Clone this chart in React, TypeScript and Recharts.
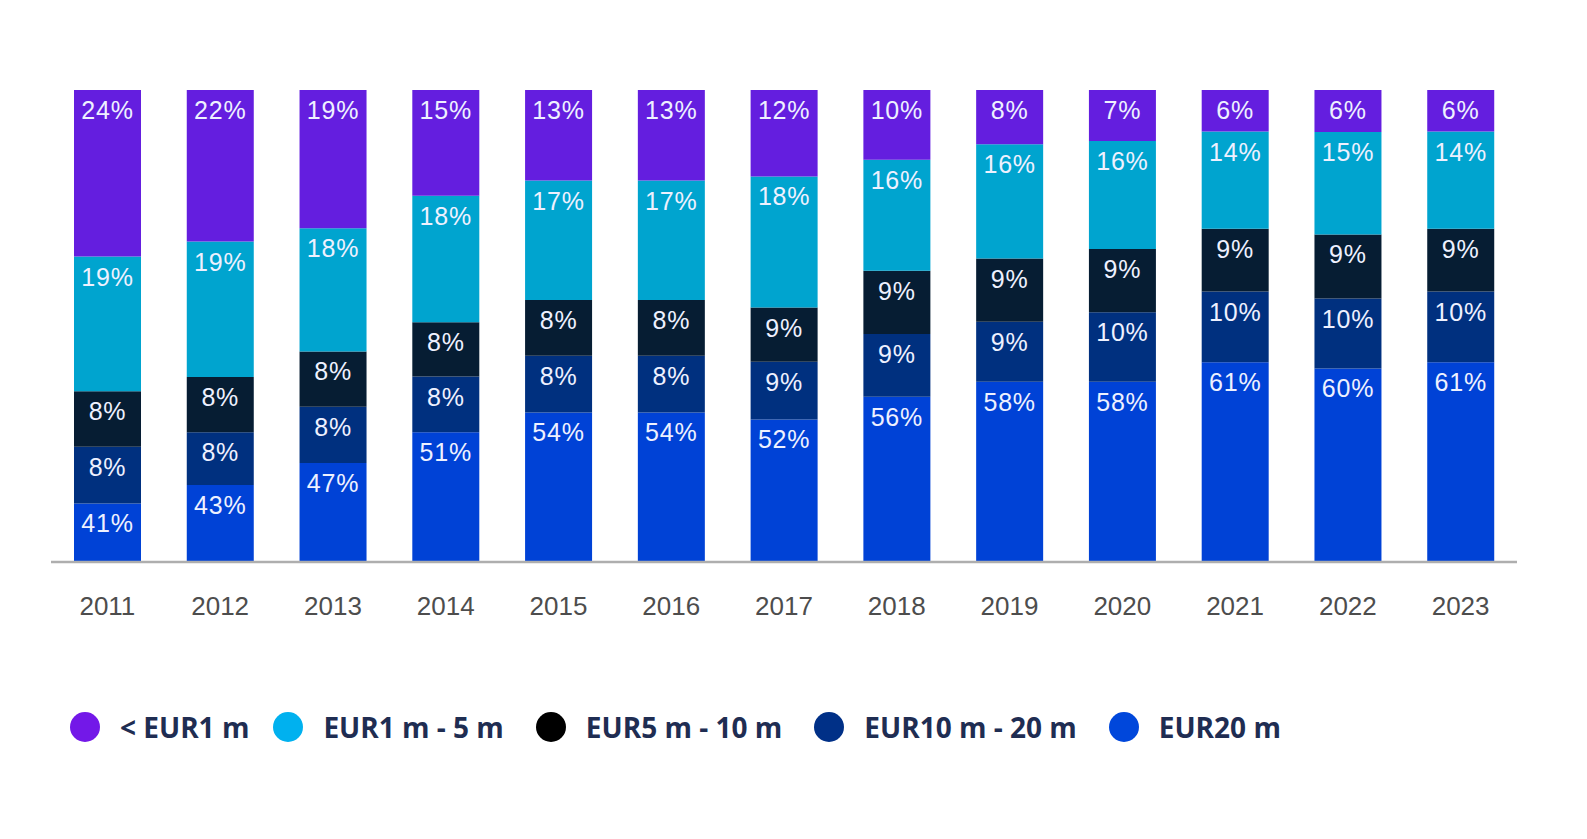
import React from "react";
import { BarChart, Bar, XAxis, YAxis, Legend, LabelList } from "recharts";

// Categories
const years = ["2011", "2012", "2013", "2014", "2015", "2016", "2017", "2018", "2019", "2020", "2021", "2022", "2023"];

// Printed percentage labels (as shown on the bars)
const labelUnder1 = [24, 22, 19, 15, 13, 13, 12, 10, 8, 7, 6, 6, 6];
const label1to5 = [19, 19, 18, 18, 17, 17, 18, 16, 16, 16, 14, 15, 14];
const label5to10 = [8, 8, 8, 8, 8, 8, 9, 9, 9, 9, 9, 9, 9];
const label10to20 = [8, 8, 8, 8, 8, 8, 9, 9, 9, 10, 10, 10, 10];
const label20 = [41, 43, 47, 51, 54, 54, 52, 56, 58, 58, 61, 60, 61];

// Segment heights as drawn in the picture (share of bar height, %)
const drawnUnder1 = [35.3, 32.1, 29.3, 22.4, 19.2, 19.2, 18.3, 14.8, 11.5, 10.8, 8.8, 8.9, 8.8];
const drawn1to5 = [28.5, 28.7, 26.1, 26.8, 25.3, 25.3, 27.8, 23.5, 24.2, 22.9, 20.6, 21.7, 20.6];
const drawn5to10 = [11.8, 11.7, 11.7, 11.5, 11.8, 11.8, 11.5, 13.4, 13.4, 13.4, 13.3, 13.6, 13.3];
const drawn10to20 = [12.0, 11.2, 11.9, 11.8, 12.0, 12.0, 12.2, 13.3, 12.7, 14.7, 15.0, 14.8, 15.0];
const drawn20 = [12.4, 16.3, 21.0, 27.5, 31.7, 31.7, 30.2, 35.0, 38.2, 38.2, 42.3, 41.0, 42.3];

// Series names
const seriesNames = ["< EUR1 m", "EUR1 m - 5 m", "EUR5 m - 10 m", "EUR10 m - 20 m", "EUR20 m"];

const data = years.map((year, i) => ({
  year,
  s20: drawn20[i],
  s10to20: drawn10to20[i],
  s5to10: drawn5to10[i],
  s1to5: drawn1to5[i],
  sUnder1: drawnUnder1[i],
  l20: label20[i],
  l10to20: label10to20[i],
  l5to10: label5to10[i],
  l1to5: label1to5[i],
  lUnder1: labelUnder1[i],
}));

const barColors = {
  sUnder1: "#641EDF",
  s1to5: "#00A4CF",
  s5to10: "#061D33",
  s10to20: "#00307F",
  s20: "#0042D6",
};

const legendColors = ["#7318E8", "#00B1EF", "#000000", "#003087", "#0047DB"];

const renderSegLabel = (props: any) => {
  const { x, y, width, value } = props;
  return (
    <text
      x={Number(x) + Number(width) / 2}
      y={Number(y) + 29}
      textAnchor="middle"
      fill="#EEF1FF"
      fontFamily='"Liberation Sans", Arial, sans-serif'
      fontSize={25}
      letterSpacing={0.8}
    >
      {value}%
    </text>
  );
};

const renderLegend = () => (
  <div
    style={{
      display: "flex",
      alignItems: "center",
      fontFamily: '"Open Sans", sans-serif',
      fontWeight: 700,
      fontSize: 28,
      color: "#1F2D52",
      whiteSpace: "nowrap",
      lineHeight: "30px",
    }}
  >
    {seriesNames.map((name, i) => (
      <div key={name} style={{ display: "flex", alignItems: "center", marginRight: i === 0 ? 24 : 32 }}>
        <span
          style={{
            display: "inline-block",
            width: 30,
            height: 30,
            borderRadius: "50%",
            background: legendColors[i],
            marginRight: 20,
          }}
        />
        <span>{name}</span>
      </div>
    ))}
  </div>
);

export default function App() {
  return (
    <div style={{ position: "absolute", left: 0, top: 0, width: 1587, height: 839, background: "#fff" }}>
      <BarChart
        width={1587}
        height={839}
        data={data}
        margin={{ top: 90, right: 70, bottom: 217, left: 51 }}
        barCategoryGap={0}
      >
        <XAxis
          dataKey="year"
          axisLine={{ stroke: "#AEAEAE", strokeWidth: 2.5 }}
          tickLine={false}
          tickMargin={29}
          height={60}
          tick={{ fill: "#4D4D4D", fontSize: 26, fontFamily: '"Liberation Sans", Arial, sans-serif' }}
        />
        <YAxis hide domain={[0, 100]} allowDataOverflow />
        <Legend
          layout="horizontal"
          verticalAlign="middle"
          align="center"
          content={renderLegend}
          wrapperStyle={{ left: 70, top: 712, width: "auto" }}
        />
        <Bar dataKey="s20" name={seriesNames[4]} stackId="a" fill={barColors.s20} barSize={67} isAnimationActive={false}>
          <LabelList dataKey="l20" content={renderSegLabel} />
        </Bar>
        <Bar dataKey="s10to20" name={seriesNames[3]} stackId="a" fill={barColors.s10to20} barSize={67} isAnimationActive={false}>
          <LabelList dataKey="l10to20" content={renderSegLabel} />
        </Bar>
        <Bar dataKey="s5to10" name={seriesNames[2]} stackId="a" fill={barColors.s5to10} barSize={67} isAnimationActive={false}>
          <LabelList dataKey="l5to10" content={renderSegLabel} />
        </Bar>
        <Bar dataKey="s1to5" name={seriesNames[1]} stackId="a" fill={barColors.s1to5} barSize={67} isAnimationActive={false}>
          <LabelList dataKey="l1to5" content={renderSegLabel} />
        </Bar>
        <Bar dataKey="sUnder1" name={seriesNames[0]} stackId="a" fill={barColors.sUnder1} barSize={67} isAnimationActive={false}>
          <LabelList dataKey="lUnder1" content={renderSegLabel} />
        </Bar>
      </BarChart>
    </div>
  );
}
